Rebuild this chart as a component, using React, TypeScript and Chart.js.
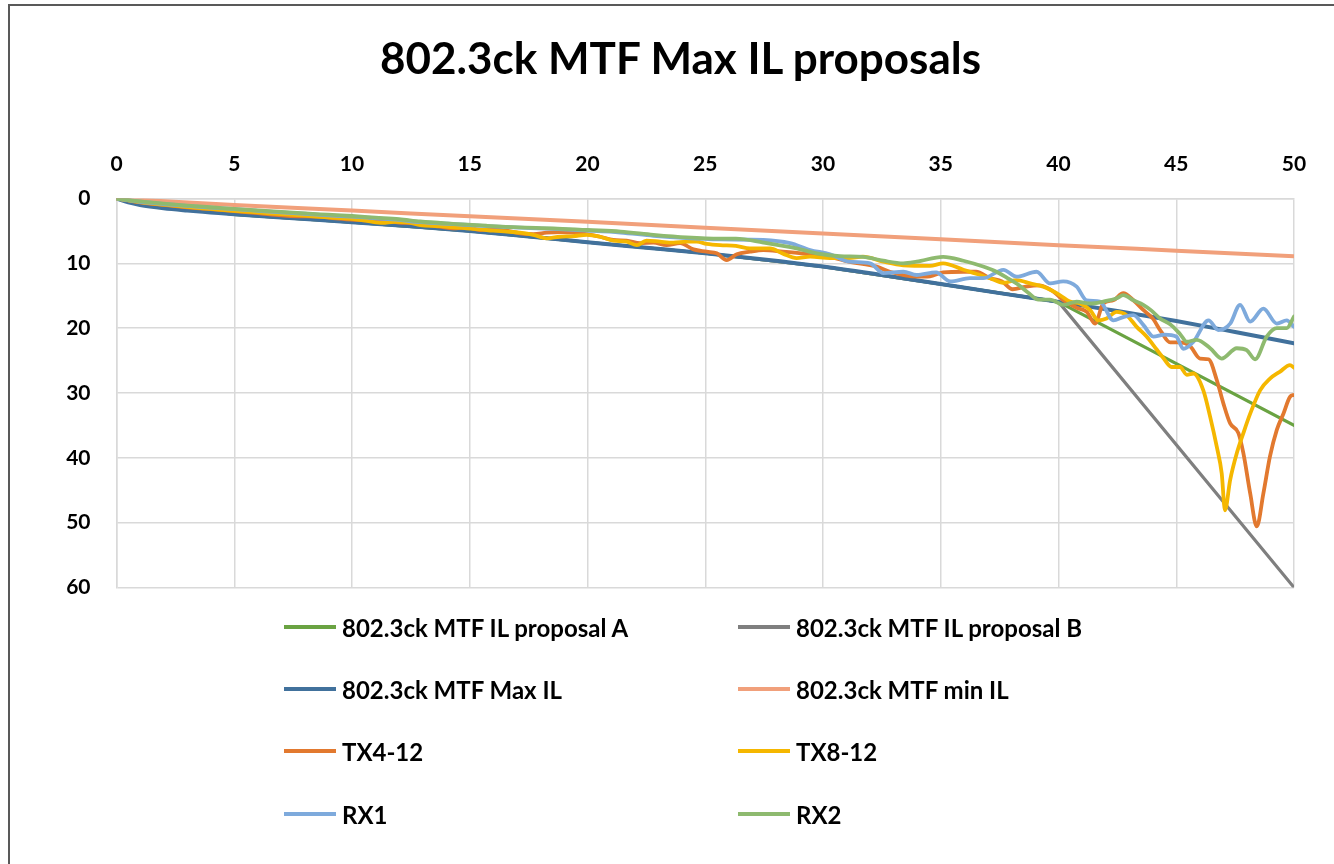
import React, { useEffect, useRef } from "react";
import { Chart, registerables } from "chart.js";

Chart.register(...registerables);

const TITLE = "802.3ck MTF Max IL proposals";
const FONT = "Lato, 'Open Sans', sans-serif";

// x axis (frequency, GHz) and y axis (insertion loss, dB) ranges
const xMin = 0;
const xMax = 50;
const xStep = 5;
const yMin = 0;
const yMax = 60;
const yStep = 10;

const seriesLabels = [
  "802.3ck MTF IL proposal A",
  "802.3ck MTF IL proposal B",
  "802.3ck MTF Max IL",
  "802.3ck MTF min IL",
  "TX4-12",
  "TX8-12",
  "RX1",
  "RX2",
];
const seriesColors = [
  "#6AA342",
  "#7F7F7F",
  "#41719C",
  "#F1A07B",
  "#E2792F",
  "#F5B700",
  "#7EAADC",
  "#8EBA6F",
];

// proposal A / B
const propFreq = [0, 5, 10, 15, 20, 25, 30, 35, 40, 50];
const propAIL = [0, 2.45, 3.65, 5.0, 6.75, 8.45, 10.5, 13.2, 15.95, 35];
const propBIL = [0, 2.45, 3.65, 5.0, 6.75, 8.45, 10.5, 13.2, 15.95, 60];

// Max IL
const maxFreq = [0, 0.5, 1, 2, 3, 4, 5, 7.5, 10, 12.5, 15, 17.5, 20, 22.5, 25, 27.5, 30, 32.5, 35, 37.5, 40, 42.5, 45, 47.5, 50];
const maxIL = [0, 0.6, 1.0, 1.5, 1.85, 2.15, 2.45, 3.05, 3.65, 4.3, 5.0, 5.85, 6.75, 7.6, 8.45, 9.4, 10.5, 11.8, 13.2, 14.6, 15.95, 17.35, 18.9, 20.6, 22.35];

// min IL
const minFreq = [0, 5, 10, 15, 20, 25, 30, 35, 40, 45, 50];
const minIL = [0, 1.0, 1.85, 2.75, 3.6, 4.5, 5.4, 6.3, 7.2, 8.05, 8.9];

// TX4-12
const tx4Freq = [0, 1, 2, 3, 4, 5, 6, 7, 7.7, 8.5, 9.3, 10, 11, 12, 12.9, 13.74, 14.3, 14.87, 15.44, 16.0, 16.57, 17.13, 17.7, 18.27, 18.83, 19.4, 19.97, 20.53, 21.1, 21.66, 22.23, 22.8, 23.36, 23.93, 24.5, 25.06, 25.49, 25.91, 26.34, 26.9, 27.47, 28.3, 29.16, 30.3, 31.1, 32.28, 32.84, 33.98, 34.54, 35.1, 35.96, 36.5, 37.1, 37.6, 38.05, 38.6, 39.2, 39.8, 40.2, 40.8, 41.2, 41.55, 41.9, 42.33, 42.75, 43.18, 43.6, 44.0, 44.35, 44.74, 45.16, 45.59, 46.01, 46.37, 46.72, 47.0, 47.29, 47.64, 47.85, 48.14, 48.42, 48.7, 48.98, 49.27, 49.55, 49.83, 50];
const tx4IL = [0, 0.6, 1.0, 1.35, 1.65, 1.95, 2.25, 2.6, 2.75, 2.8, 3.05, 3.25, 3.45, 3.7, 3.94, 4.35, 4.6, 4.45, 4.86, 4.76, 4.97, 5.37, 5.5, 5.27, 5.17, 5.27, 5.5, 5.9, 6.4, 6.5, 6.9, 6.8, 7.2, 6.9, 7.85, 8.2, 8.46, 9.5, 8.6, 8.2, 7.95, 8.2, 8.5, 9.0, 9.75, 10.5, 11.3, 12.06, 12.0, 11.4, 11.3, 11.3, 12.3, 12.8, 14.0, 13.6, 13.4, 14.4, 15.7, 16.9, 17.5, 19.3, 16.2, 15.7, 14.6, 15.7, 17.2, 18.5, 20.5, 22.2, 22.2, 22.8, 24.7, 24.8, 28.0, 31.6, 34.7, 36.2, 39.3, 45.5, 50.6, 45.5, 39.8, 35.7, 33.2, 30.6, 30.3];

// TX8-12
const tx8Freq = [0, 1, 2, 3, 4, 5, 6, 7, 8, 9, 10, 10.7, 11.3, 11.8, 12.4, 12.9, 13.74, 14.3, 14.87, 15.44, 16.0, 16.57, 17.13, 17.7, 18.27, 18.83, 19.4, 19.97, 20.53, 21.1, 21.66, 22.1, 22.5, 23.08, 23.64, 24.21, 24.64, 25.06, 25.63, 26.3, 26.9, 27.75, 28.3, 28.88, 29.45, 30.3, 31.1, 31.7, 32.56, 33.41, 34.54, 35.1, 35.96, 36.5, 37.09, 37.66, 38.22, 38.8, 39.35, 39.92, 40.49, 40.91, 41.34, 41.69, 42.04, 42.47, 42.89, 43.32, 43.74, 44.17, 44.45, 44.8, 45.16, 45.45, 45.73, 46.15, 46.44, 46.72, 46.93, 47.07, 47.29, 47.57, 47.85, 48.14, 48.56, 48.98, 49.41, 49.83, 50];
const tx8IL = [0, 0.55, 0.95, 1.3, 1.6, 1.9, 2.15, 2.4, 2.65, 2.9, 3.15, 3.5, 3.75, 3.6, 3.7, 4.1, 4.25, 4.45, 4.6, 4.76, 4.97, 5.1, 5.27, 5.6, 6.15, 5.9, 5.8, 5.6, 5.9, 6.5, 6.66, 7.2, 6.5, 6.66, 6.8, 6.66, 6.66, 7.0, 7.2, 7.3, 7.7, 7.7, 8.5, 9.2, 8.98, 9.2, 9.2, 8.98, 9.75, 10.3, 10.4, 10.0, 11.0, 11.6, 12.3, 13.0, 12.6, 13.1, 13.6, 14.6, 15.9, 16.2, 17.2, 18.8, 18.5, 17.5, 18.0, 19.8, 21.3, 23.3, 24.6, 26.0, 26.0, 27.2, 27.0, 29.6, 33.7, 38.3, 42.4, 48.1, 43.4, 39.3, 36.2, 33.2, 29.6, 27.8, 26.7, 25.7, 26.1];

// RX1
const rx1Freq = [0, 1, 2, 3, 4, 5, 6, 7, 8, 9, 10, 11, 12, 12.9, 14.3, 15.7, 17.1, 18.55, 20, 21.4, 22.8, 24.2, 25.6, 27.47, 28.6, 29.45, 30.3, 31.1, 32.0, 32.56, 33.41, 33.98, 34.8, 35.4, 36.24, 36.8, 37.66, 38.22, 39.07, 39.64, 40.2, 40.77, 41.19, 41.76, 42.33, 42.75, 43.18, 43.6, 44.03, 44.5, 45.0, 45.3, 45.73, 46.37, 46.79, 47.29, 47.71, 48.14, 48.7, 49.27, 49.69, 50];
const rx1IL = [0, 0.5, 0.85, 1.15, 1.4, 1.65, 1.9, 2.15, 2.35, 2.6, 2.8, 3.05, 3.3, 3.65, 3.95, 4.25, 4.5, 4.7, 4.95, 5.25, 5.75, 6.1, 6.3, 6.4, 6.9, 7.95, 8.6, 9.75, 10.0, 11.5, 11.3, 11.8, 11.4, 12.8, 12.3, 12.3, 11.0, 12.06, 11.3, 13.1, 12.8, 13.6, 15.7, 15.9, 18.8, 18.3, 18.0, 19.5, 21.3, 21.0, 21.3, 23.2, 22.1, 18.8, 20.3, 19.3, 16.4, 19.0, 17.0, 19.3, 18.8, 19.8];

// RX2
const rx2Freq = [0, 1, 2, 3, 4, 5, 6, 7, 8, 9, 10, 11, 12, 12.9, 14.3, 15.7, 17.1, 18.55, 20, 21.4, 22.8, 24.2, 25.6, 26.3, 27.47, 28.88, 29.73, 30.72, 31.7, 32.56, 33.41, 33.98, 35.1, 35.96, 36.8, 37.3, 37.8, 38.25, 38.7, 39.15, 39.64, 40.2, 40.77, 41.34, 41.9, 42.47, 42.75, 43.18, 43.6, 43.95, 44.31, 44.74, 45.16, 45.45, 45.87, 46.44, 46.93, 47.57, 47.99, 48.35, 48.84, 49.27, 49.69, 50];
const rx2IL = [0, 0.45, 0.8, 1.1, 1.35, 1.6, 1.85, 2.05, 2.3, 2.5, 2.7, 2.95, 3.2, 3.55, 3.9, 4.2, 4.45, 4.6, 4.86, 5.1, 5.6, 6.0, 6.2, 6.2, 6.8, 7.7, 8.46, 8.9, 9.0, 9.6, 10.0, 9.75, 9.0, 9.6, 10.5, 11.2, 12.2, 13.2, 14.5, 15.6, 15.6, 16.4, 15.9, 16.2, 15.9, 15.4, 14.9, 15.7, 16.4, 17.3, 18.5, 19.4, 20.9, 22.1, 21.8, 23.1, 24.7, 23.1, 23.4, 24.8, 21.3, 20.0, 20.0, 18.2];

const seriesFreqs = [propFreq, propFreq, maxFreq, minFreq, tx4Freq, tx8Freq, rx1Freq, rx2Freq];
const seriesValues = [propAIL, propBIL, maxIL, minIL, tx4IL, tx8IL, rx1IL, rx2IL];
const seriesTension = [0, 0, 0.4, 0.4, 0.4, 0.4, 0.4, 0.4];
const seriesWidths = [3.2, 3.2, 4, 4, 3.8, 3.8, 3.8, 3.8];

const CANVAS_W = 1334;
const CANVAS_H = 626;
const GRID = "#D9D9D9";

const legendCols = [284, 738];
const legendRows = [627, 689, 751, 814];

export default function App() {
  const canvasRef = useRef<HTMLCanvasElement | null>(null);

  useEffect(() => {
    const canvas = canvasRef.current;
    if (!canvas) return;
    const datasets = seriesLabels.map((label, i) => ({
      label,
      data: seriesFreqs[i].map((x, k) => ({ x, y: seriesValues[i][k] })),
      borderColor: seriesColors[i],
      backgroundColor: seriesColors[i],
      borderWidth: seriesWidths[i],
      pointRadius: 0,
      tension: seriesTension[i],
      cubicInterpolationMode: seriesTension[i] > 0 ? ("monotone" as const) : ("default" as const),
      borderJoinStyle: "round" as const,
      borderCapStyle: "round" as const,
      fill: false,
      order: seriesLabels.length - 1 - i,
    }));
    const tickFont = { family: FONT, size: 21, weight: "bold" as const };
    const chart = new Chart(canvas, {
      type: "line",
      data: { datasets },
      options: {
        responsive: false,
        animation: false,
        events: [],
        layout: { padding: { left: 0, right: 40, top: 152.5, bottom: 0 } },
        plugins: {
          legend: { display: false },
          tooltip: { enabled: false },
          title: { display: false },
        },
        scales: {
          x: {
            type: "linear",
            position: "top",
            min: xMin,
            max: xMax,
            ticks: { stepSize: xStep, color: "#000000", font: tickFont, padding: 22, maxRotation: 0 },
            grid: { color: GRID, lineWidth: 1.5, drawTicks: false },
            border: { color: GRID, width: 1.5 },
            afterFit: (s: any) => {
              s.height = 46;
            },
          },
          y: {
            type: "linear",
            reverse: true,
            min: yMin,
            max: yMax,
            ticks: { stepSize: yStep, color: "#000000", font: tickFont, padding: 26 },
            grid: { color: GRID, lineWidth: 1.5, drawTicks: false },
            border: { color: GRID, width: 1.5 },
            afterFit: (s: any) => {
              s.width = 116.5;
            },
          },
        },
      },
    });
    return () => chart.destroy();
  }, []);

  return (
    <div
      style={{
        position: "fixed",
        left: 0,
        top: 0,
        width: 1334,
        height: 864,
        overflow: "hidden",
        background: "#ffffff",
      }}
    >
      <canvas
        ref={canvasRef}
        width={CANVAS_W}
        height={CANVAS_H}
        style={{ position: "absolute", left: 0, top: 0, width: CANVAS_W, height: CANVAS_H }}
      />
      <div
        style={{
          position: "absolute",
          left: 0,
          top: 31,
          width: 1361,
          textAlign: "center",
          fontFamily: FONT,
          fontWeight: 700,
          fontSize: 44,
          lineHeight: "52.8px",
          color: "#000000",
          whiteSpace: "nowrap",
        }}
      >
        {TITLE}
      </div>
      <div
        style={{
          position: "absolute",
          left: 8,
          top: 4,
          width: 1400,
          height: 900,
          borderLeft: "2px solid #595959",
          borderTop: "2px solid #595959",
          pointerEvents: "none",
        }}
      />
      {seriesLabels.map((label, i) => {
        const col = i % 2;
        const row = Math.floor(i / 2);
        return (
          <div
            key={label}
            style={{
              position: "absolute",
              left: legendCols[col],
              top: legendRows[row] - 16,
              height: 32,
              display: "flex",
              alignItems: "center",
              whiteSpace: "nowrap",
              fontFamily: FONT,
              fontWeight: 700,
              fontSize: 24,
              color: "#000000",
            }}
          >
            <span
              style={{
                display: "inline-block",
                width: 52,
                height: 4,
                background: seriesColors[i],
                marginRight: 6,
              }}
            />
            <span>{label}</span>
          </div>
        );
      })}
    </div>
  );
}
